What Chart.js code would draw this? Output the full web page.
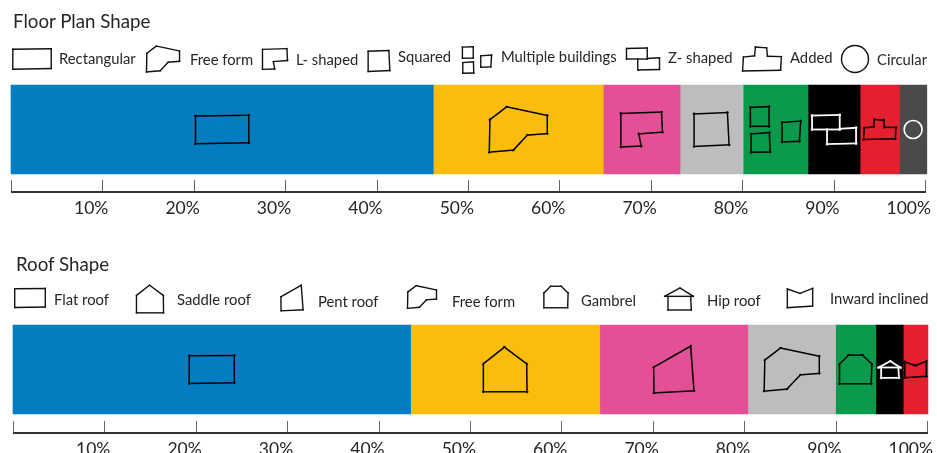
<!DOCTYPE html>
<html>
<head>
<meta charset="utf-8">
<script src="https://cdn.jsdelivr.net/npm/chart.js@4"></script>
<style>
  html, body { margin: 0; padding: 0; background: #fff; overflow: hidden; }
  #page { position: relative; width: 937px; height: 453px; font-family: Lato, "Open Sans", sans-serif; color: #262626; }
  canvas { position: absolute; left: 0; }
  .lbl { position: absolute; white-space: nowrap; font-size: 14.8px; line-height: 18px; transform: translateY(-50%); }
  .ttl { font-size: 18.7px; line-height: 24px; }
</style>
</head>
<body>
<div id="page">
  <canvas id="floor" width="937" height="226" style="top:0"></canvas>
  <canvas id="roof" width="937" height="227" style="top:226px"></canvas>
</div>

<script>
// data
var floorTitle = "Floor Plan Shape"
var floorCategories = ["Rectangular", "Free form", "L- shaped", "Squared", "Multiple buildings", "Z- shaped", "Added", "Circular"]
var floorValues = [46.2, 18.6, 8.4, 6.9, 7.1, 5.7, 4.3, 3.0]

var roofTitle = "Roof Shape"
var roofCategories = ["Flat roof", "Saddle roof", "Pent roof", "Free form", "Gambrel", "Hip roof", "Inward inclined"]
var roofValues = [43.5, 20.7, 16.2, 9.6, 4.4, 3.0, 2.7]

var tickValues = [0, 10, 20, 30, 40, 50, 60, 70, 80, 90, 100]
var tickLabels = ["", "10%", "20%", "30%", "40%", "50%", "60%", "70%", "80%", "90%", "100%"]

var floorColors = ["#047cc0", "#fbbd0d", "#e35096", "#bdbdbd", "#0a9a4c", "#000000", "#e41f2e", "#4a4a4a"]
var roofColors = ["#047cc0", "#fbbd0d", "#e35096", "#bdbdbd", "#0a9a4c", "#000000", "#e41f2e"]

// hand drawn icons, each a list of polylines
var SHAPES = {
  rect: [[[587,348],[747,346],[747,428],[587,431],[587,348]]],
  free: [[[68,360],[118,322],[240,348],[240,402],[180,407],[138,452],[66,458],[68,360]]],
  lshape: [[[468,342],[590,338],[593,398],[522,403],[529,440],[468,442],[468,342]]],
  square: [[[686,344],[786,340],[791,437],[686,442],[686,344]]],
  multi: [
    [[858,324],[914,322],[914,381],[858,381],[858,324]],
    [[860,404],[915,400],[917,458],[860,459],[860,404]],
    [[953,369],[1009,365],[1005,426],[953,428],[953,369]]
  ],
  zshape: [
    [[1035,348],[1118,346],[1118,390],[1035,390],[1035,348]],
    [[1118,388],[1167,385],[1167,432],[1080,434],[1080,390]]
  ],
  added: [[[1192,385],[1220,382],[1222,360],[1250,362],[1252,383],[1287,384],[1285,418],[1190,420],[1192,385]]],
  flat: [[[572,386],[707,385],[707,467],[572,469],[572,386]]],
  saddle: [[[113,362],[180,412],[181,496],[50,496],[50,412],[113,362]]],
  pent: [[[566,420],[677,357],[687,491],[567,497],[566,420]]],
  gambrel: [[[1118,410],[1145,383],[1187,383],[1215,410],[1213,469],[1118,469],[1118,410]]],
  hip: [
    [[592,207],[638,182],[678,207],[592,207]],
    [[602,207],[602,248],[672,248],[670,207]]
  ],
  inward: [[[962,187],[1000,200],[1038,185],[1038,238],[962,243],[962,187]]]
}

// [shape, size, colour, line width] for the icon on each bar
var floorBarIcons = [
  ["rect", 1, "#000", 1.5], ["free", 1, "#000", 1.5], ["lshape", 1, "#000", 1.5], ["square", 1, "#000", 1.5],
  ["multi", 1, "#000", 1.5], ["zshape", 1, "#fff", 1.8], ["added", 1, "#000", 1.5], ["circle", 1, "#fff", 1.6]
]
var roofBarIcons = [
  ["flat", 1, "#000", 1.5], ["saddle", 1, "#000", 1.5], ["pent", 1, "#000", 1.5], ["free", 0.95, "#000", 1.5],
  ["gambrel", 1, "#000", 1.5], ["hip", 0.76, "#fff", 1.8], ["inward", 0.85, "#000", 1.5]
]

// [shape, size, centre x, centre y, label x, label y] for the legend rows, page pixels
var floorLegend = [
  ["rect", 0.72, 32, 59, 59, 58], ["free", 0.57, 163, 59, 190, 59], ["lshape", 0.6, 275, 59, 296, 59],
  ["square", 0.62, 379, 61, 398, 56], ["multi", 0.58, 477, 60, 501, 56], ["zshape", 0.75, 643, 59, 668, 57],
  ["added", 1.2, 762, 59, 790, 57], ["circle", 1.5, 855, 59, 877, 59]
]
var roofLegend = [
  ["flat", 0.68, 30, 298, 54, 299], ["saddle", 0.62, 150, 299, 177, 299], ["pent", 0.55, 292, 298, 318, 301],
  ["free", 0.5, 422, 297, 452, 301], ["gambrel", 0.75, 556, 297, 581, 300], ["hip", 1, 679, 299, 707, 300],
  ["inward", 1, 800, 298, 830, 298]
]

function drawSketch(ctx, name, cx, cy, size, color, width, over){
  ctx.save()
  ctx.strokeStyle = color
  ctx.lineWidth = width
  if (name == "circle"){
    ctx.beginPath()
    ctx.arc(cx, cy, 9 * size, 0, Math.PI * 2)
    ctx.stroke()
    ctx.restore()
    return
  }
  var lines = SHAPES[name]
  var xs = [], ys = []
  lines.forEach(function(line){
    line.forEach(function(p){ xs.push(p[0]); ys.push(p[1]) })
  })
  var mx = (Math.min.apply(null, xs) + Math.max.apply(null, xs)) / 2
  var my = (Math.min.apply(null, ys) + Math.max.apply(null, ys)) / 2
  // strokes run a little past the corners
  lines.forEach(function(line){
    for (var i = 0; i < line.length - 1; i++){
      var x1 = cx + (line[i][0] - mx) / 3 * size
      var y1 = cy + (line[i][1] - my) / 3 * size
      var x2 = cx + (line[i + 1][0] - mx) / 3 * size
      var y2 = cy + (line[i + 1][1] - my) / 3 * size
      var len = Math.hypot(x2 - x1, y2 - y1)
      var ox = (x2 - x1) / len * over
      var oy = (y2 - y1) / len * over
      ctx.beginPath()
      ctx.moveTo(x1 - ox, y1 - oy)
      ctx.lineTo(x2 + ox, y2 + oy)
      ctx.stroke()
    }
  })
  ctx.restore()
}

// axis line with ticks standing up from it, and the icons
var shapeBarPlugin = {
  id: "shapeBar",
  afterDatasetsDraw: function(chart, args, opts){
    var ctx = chart.ctx
    var x = chart.scales.x
    ctx.save()
    ctx.strokeStyle = "#666"
    ctx.lineWidth = 1
    x.ticks.forEach(function(t){
      var px = Math.round(x.getPixelForValue(t.value)) + 0.5
      ctx.beginPath()
      ctx.moveTo(px, opts.axisY - 12)
      ctx.lineTo(px, opts.axisY)
      ctx.stroke()
    })
    ctx.strokeStyle = "#333"
    ctx.lineWidth = 2
    ctx.beginPath()
    ctx.moveTo(x.left, opts.axisY)
    ctx.lineTo(x.right + 1, opts.axisY)
    ctx.stroke()
    ctx.restore()

    chart.data.datasets.forEach(function(ds, i){
      var bar = chart.getDatasetMeta(i).data[0]
      var icon = opts.barIcons[i]
      drawSketch(ctx, icon[0], (bar.base + bar.x) / 2, bar.y, icon[1], icon[2], icon[3], 1.3)
    })
    opts.legend.forEach(function(l){
      drawSketch(ctx, l[0], l[2], l[3] - opts.top, l[1], "#111", 1.4, 0.7)
    })
  }
}

function buildChart(id, cats, values, colors, barIcons, legend, cfg){
  var datasets = []
  for (var i = 0; i < values.length; i++){
    datasets.push({
      label: cats[i],
      data: [values[i]],
      backgroundColor: colors[i],
      borderWidth: 0,
      clip: false,
      categoryPercentage: 1,
      barPercentage: 1
    })
  }
  return new Chart(document.getElementById(id), {
    type: "bar",
    data: { labels: ["share"], datasets: datasets },
    plugins: [shapeBarPlugin],
    options: {
      indexAxis: "y",
      responsive: false,
      animation: false,
      layout: { autoPadding: false, padding: { left: cfg.left, right: cfg.right, top: cfg.barTop, bottom: 0 } },
      plugins: {
        legend: { display: false },
        title: { display: false },
        tooltip: { enabled: false },
        shapeBar: { axisY: cfg.axisY, barIcons: barIcons, legend: legend, top: cfg.top }
      },
      scales: {
        y: { stacked: true, display: false },
        x: {
          stacked: true,
          min: 0,
          max: 100,
          afterBuildTicks: function(scale){
            scale.ticks = tickValues.map(function(v){ return { value: v } })
          },
          afterFit: function(scale){
            scale.height = cfg.axisHeight
            scale.paddingLeft = 0
            scale.paddingRight = 0
          },
          grid: { display: false },
          border: { display: false },
          ticks: {
            autoSkip: false,
            maxRotation: 0,
            align: "end",
            labelOffset: 6,
            padding: cfg.labelPad,
            color: "#262626",
            font: { family: "Lato, 'Open Sans', sans-serif", size: 17.5 },
            callback: function(v, i){ return tickLabels[i] }
          }
        }
      }
    }
  })
}

function addLabel(text, x, y, cls){
  var s = document.createElement("span")
  s.className = cls
  s.textContent = text
  s.style.left = x + "px"
  s.style.top = y + "px"
  document.getElementById("page").appendChild(s)
}

buildChart("floor", floorCategories, floorValues, floorColors, floorBarIcons, floorLegend,
  { left: 11, right: 12, barTop: 85, axisHeight: 52, axisY: 192, top: 0, labelPad: 16 })
buildChart("roof", roofCategories, roofValues, roofColors, roofBarIcons, roofLegend,
  { left: 13, right: 10, barTop: 99, axisHeight: 39, axisY: 207, top: 226, labelPad: 17 })

addLabel(floorTitle, 13, 21, "lbl ttl")
addLabel(roofTitle, 16, 264, "lbl ttl")
floorLegend.forEach(function(l, i){ addLabel(floorCategories[i], l[4], l[5], "lbl") })
roofLegend.forEach(function(l, i){ addLabel(roofCategories[i], l[4], l[5], "lbl") })
</script>
</body>
</html>
